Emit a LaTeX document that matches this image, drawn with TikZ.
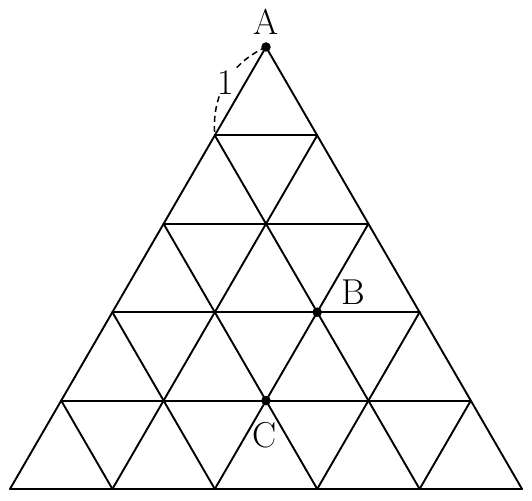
\documentclass[tikz,border=0pt]{standalone}
\begin{document}
\begin{tikzpicture}[x=1pt,y=1pt,
  gridline/.style={line width=1.9pt,line join=round,line cap=round},
  ptdot/.style={circle,fill=black,inner sep=0pt,minimum size=9.5pt},
  lbl/.style={font=\fontsize{36}{40}\selectfont,inner sep=0pt},
  arcline/.style={dashed,line width=1.5pt,dash pattern=on 6pt off 4pt}]
\useasboundingbox (0,0) rectangle (532,500);
\def\s{102.4}
\def\h{88.4}
\foreach \i in {0,...,5}{
  \foreach \j in {0,...,\i}{
    \coordinate (p-\i-\j) at ({266+(\j-\i/2)*\s},{453-\i*\h});
  }
}
% horizontal lines
\foreach \i in {1,...,5}{
  \draw[gridline] (p-\i-0) -- (p-\i-\i);
}
% lines parallel to left edge
\foreach \j in {0,...,4}{
  \draw[gridline] (p-\j-\j) -- (p-5-\j);
}
% lines parallel to right edge
\foreach \k in {0,...,4}{
  \pgfmathtruncatemacro{\e}{5-\k}
  \draw[gridline] (p-\k-0) -- (p-5-\e);
}
% dashed arc with label
\draw[arcline] (p-0-0) to[bend right=35] node[lbl,fill=white,inner sep=2pt,pos=0.5] (one) {1} (p-1-0);
% points
\node[ptdot] (A) at (p-0-0) {};
\node[ptdot] (B) at (p-3-2) {};
\node[ptdot] (C) at (p-4-2) {};
\node[lbl] (Alab) at (266,478) {A};
\node[lbl] (Blab) at (353,208) {B};
\node[lbl] (Clab) at (265,65) {C};
\end{tikzpicture}
\end{document}
